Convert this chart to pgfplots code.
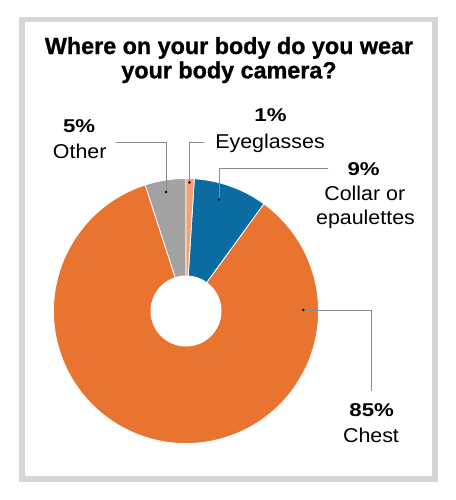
\documentclass[border=0pt]{standalone}
\usepackage{fontspec}
\setmainfont{Liberation Sans}
\newfontfamily\titlefont{Liberation Sans}[FakeBold=1]
\newfontfamily\pctfont{Liberation Sans}[FakeStretch=1.2]
\newfontfamily\labfont{Liberation Sans}[FakeStretch=1.07]
\usepackage{pgfplots}
\usepackage{pgfplotstable}
\pgfplotsset{compat=1.18}

\definecolor{chestc}{HTML}{E8742F}
\definecolor{collarc}{HTML}{0B6CA2}
\definecolor{otherc}{HTML}{A2A2A2}
\definecolor{glassc}{HTML}{F1A273}
\definecolor{framec}{HTML}{D6D6D6}
\definecolor{leadc}{HTML}{8A8A8A}

% share of respondents, counter-clockwise from 12 o'clock
\pgfplotstableread{
share place
5 Other
85 Chest
9 Collar
1 Eyeglasses
}\bodycam

\pgfplotstablegetelem{0}{share}\of\bodycam \let\sA\pgfplotsretval
\pgfplotstablegetelem{1}{share}\of\bodycam \let\sB\pgfplotsretval
\pgfplotstablegetelem{2}{share}\of\bodycam \let\sC\pgfplotsretval
\pgfplotstablegetelem{3}{share}\of\bodycam \let\sD\pgfplotsretval
\pgfmathsetmacro\aA{90}
\pgfmathsetmacro\aB{\aA+3.6*\sA}
\pgfmathsetmacro\aC{\aB+3.6*\sB}
\pgfmathsetmacro\aD{\aC+3.6*\sC}
\pgfmathsetmacro\aE{\aD+3.6*\sD}
\pgfmathsetlengthmacro\Ro{132.5*0.75pt}
\pgfmathsetlengthmacro\Ri{35.5*0.75pt}

\newcommand\slice[3]{%
  \fill[#3, draw=white, line width=0.6pt] (axis cs:186,311) -- ++(#1:\Ro)
    arc[start angle=#1, end angle=#2, radius=\Ro] -- cycle;}
\newcommand\leaderdot[2]{\fill[black] (axis cs:#1,#2) circle[radius=1pt];}

\tikzset{pct/.style={anchor=base, font=\pctfont\bfseries\fontsize{13.9}{16}\selectfont},
         lab/.style={anchor=base, font=\labfont\fontsize{15}{18}\selectfont},
         ttl/.style={anchor=base, font=\titlefont\bfseries\fontsize{17.5}{21}\selectfont},
         lead/.style={leadc, line width=0.75pt}}

\begin{document}
\begin{tikzpicture}
\begin{axis}[
  x=0.75pt, y=0.75pt, y dir=reverse,
  xmin=0, xmax=456, ymin=0, ymax=500,
  hide axis, clip=false,
]
\fill[white] (axis cs:0,0) rectangle (axis cs:456,500);
\draw[framec, line width=4.1pt] (axis cs:22.2,19.7) rectangle (axis cs:435,478.8);

\node[ttl] at (axis cs:229,54) {Where on your body do you wear};
\node[ttl] at (axis cs:229,78.3) {your body camera?};

\slice{\aA}{\aB}{otherc}
\slice{\aB}{\aC}{chestc}
\slice{\aC}{\aD}{collarc}
\slice{\aD}{\aE}{glassc}
\fill[white] (axis cs:186,311) circle[radius=\Ri];

% leader lines
\draw[lead] (axis cs:116,142.7) -- (axis cs:166,142.7) -- (axis cs:166,192);
\draw[lead] (axis cs:204,142.7) -- (axis cs:189.5,142.7) -- (axis cs:189.5,182.5);
\draw[lead] (axis cs:328,168) -- (axis cs:219,168) -- (axis cs:219,199.5);
\draw[lead] (axis cs:303.3,310) -- (axis cs:371,310) -- (axis cs:371,391);
\leaderdot{166}{192}
\leaderdot{189.5}{182.5}
\leaderdot{219}{199.5}
\leaderdot{303.3}{310}

\node[pct] at (axis cs:79.2,132.3) {5\%};
\node[lab] at (axis cs:79.7,158.3) {Other};
\node[pct] at (axis cs:270.5,121.7) {1\%};
\node[lab] at (axis cs:270,148.3) {Eyeglasses};
\node[pct] at (axis cs:363.7,175) {9\%};
\node[lab] at (axis cs:364.8,200.7) {Collar or};
\node[lab] at (axis cs:365.5,224) {epaulettes};
\node[pct] at (axis cs:371.7,416.7) {85\%};
\node[lab] at (axis cs:371,442.7) {Chest};
\end{axis}
\end{tikzpicture}
\end{document}
